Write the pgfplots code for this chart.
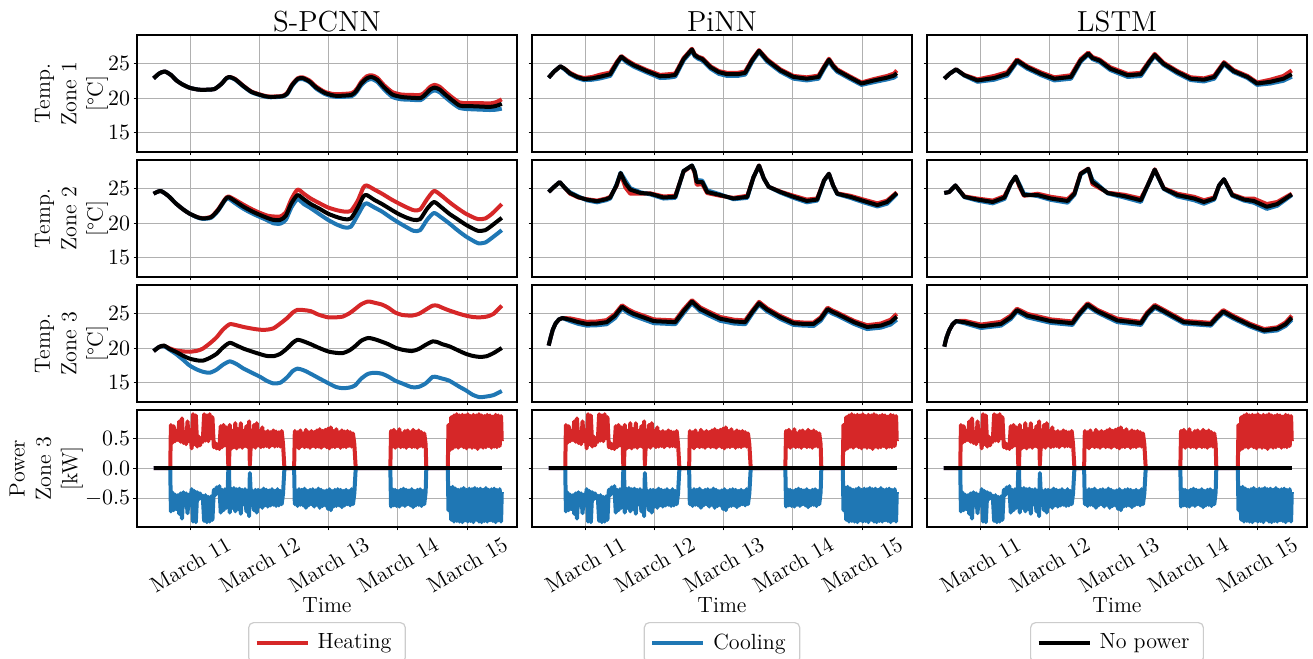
\documentclass[border=0pt]{standalone}
\usepackage{pgfplots}
\pgfplotsset{compat=1.18}
\usepackage{pgfplotstable}
\definecolor{tred}{HTML}{D62728}
\definecolor{tblue}{HTML}{1F77B4}
\definecolor{gridgray}{HTML}{B0B0B0}
\definecolor{leggray}{HTML}{CCCCCC}
\newcommand{\tickfont}{\fontsize{11}{13.2}\selectfont}
\newcommand{\labfont}{\fontsize{11}{13.2}\selectfont}
\newcommand{\titfont}{\fontsize{14.5}{17}\selectfont}

% ---------- S-PCNN ----------
\pgfplotstableread{
t h c n
10.47 22.9 22.9 22.9
10.55 23.6 23.6 23.6
10.63 23.9 23.9 23.9
10.72 23.4 23.4 23.4
10.80 22.6 22.6 22.6
10.89 22.0 22.0 22.0
11.00 21.5 21.5 21.5
11.13 21.25 21.25 21.25
11.25 21.25 21.25 21.25
11.35 21.35 21.35 21.35
11.45 22.1 22.1 22.1
11.52 22.9 22.9 22.9
11.57 23.1 23.05 23.1
11.65 22.8 22.7 22.75
11.77 21.8 21.7 21.75
11.88 21.0 20.9 20.95
11.96 20.7 20.6 20.65
12.08 20.35 20.25 20.3
12.16 20.25 20.15 20.2
12.33 20.35 20.25 20.3
12.40 20.8 20.6 20.7
12.47 22.0 21.8 21.9
12.55 22.9 22.7 22.8
12.62 23.05 22.8 22.95
12.72 22.6 22.35 22.45
12.82 21.7 21.4 21.55
12.94 20.95 20.65 20.8
13.05 20.65 20.3 20.45
13.13 20.6 20.2 20.35
13.33 20.75 20.3 20.5
13.40 21.3 20.9 21.1
13.47 22.4 21.9 22.15
13.55 23.2 22.6 22.9
13.62 23.35 22.8 23.1
13.70 23.0 22.4 22.7
13.80 21.9 21.3 21.6
13.92 20.9 20.2 20.55
14.05 20.55 19.85 20.2
14.16 20.5 19.8 20.1
14.33 20.5 19.75 20.05
14.40 21.0 20.3 20.6
14.47 21.7 20.9 21.3
14.53 21.95 21.15 21.55
14.60 21.7 20.9 21.3
14.69 20.9 20.1 20.5
14.80 20.0 19.2 19.6
14.89 19.4 18.6 18.95
14.98 19.3 18.45 18.85
15.08 19.3 18.4 18.85
15.20 19.3 18.35 18.8
15.33 19.25 18.3 18.75
15.42 19.45 18.35 18.9
15.50 19.85 18.5 19.2
}\spzA

\pgfplotstableread{
t h c n
10.47 24.3 24.3 24.3
10.57 24.7 24.7 24.7
10.68 24.0 24.0 24.0
10.79 22.9 22.9 22.9
10.90 22.0 22.0 22.0
10.99 21.4 21.4 21.4
11.10 20.9 20.85 20.9
11.18 20.75 20.65 20.7
11.30 20.95 20.8 20.9
11.40 22.0 21.8 21.9
11.50 23.5 23.3 23.4
11.55 23.9 23.6 23.8
11.65 23.4 22.9 23.2
11.77 22.7 22.1 22.4
11.90 22.0 21.4 21.7
12.01 21.5 20.9 21.2
12.12 21.1 20.4 20.75
12.20 21.0 20.0 20.5
12.30 21.0 19.95 20.5
12.38 21.6 20.5 21.1
12.46 23.5 22.3 22.9
12.55 24.9 23.5 24.1
12.64 24.3 22.8 23.5
12.74 23.6 22.2 22.8
12.87 22.9 21.3 22.1
12.99 22.3 20.5 21.4
13.12 21.9 19.8 20.9
13.23 21.7 19.4 20.6
13.32 21.8 19.5 20.7
13.42 23.3 21.2 22.3
13.50 25.2 22.6 23.9
13.55 25.5 22.9 24.1
13.66 24.9 22.3 23.4
13.77 24.3 21.7 22.8
13.90 23.5 20.8 22.0
14.01 22.9 20.1 21.35
14.13 22.3 19.4 20.8
14.23 21.9 18.9 20.5
14.32 22.0 19.0 20.6
14.42 23.5 20.5 22.1
14.52 24.7 21.5 23.1
14.62 24.1 20.9 22.4
14.74 23.1 20.0 21.4
14.86 22.2 19.0 20.6
14.98 21.4 18.1 19.8
15.08 20.9 17.5 19.25
15.16 20.6 17.1 18.9
15.26 20.7 17.2 19.0
15.36 21.4 17.9 19.7
15.50 22.8 19.0 20.8
}\spzB

\pgfplotstableread{
t h c n
10.47 19.6 19.6 19.6
10.55 20.2 20.2 20.2
10.62 20.35 20.3 20.4
10.70 20.0 19.8 19.9
10.79 19.7 19.2 19.5
10.90 19.55 18.3 18.9
10.99 19.5 17.5 18.5
11.10 19.65 16.9 18.25
11.18 19.95 16.6 18.2
11.28 20.7 16.45 18.6
11.38 21.6 16.9 19.2
11.47 22.7 17.6 20.1
11.57 23.5 18.1 20.8
11.67 23.35 17.7 20.4
11.77 23.1 17.05 19.95
11.90 22.85 16.4 19.5
12.01 22.7 15.85 19.15
12.10 22.7 15.3 18.9
12.20 22.9 14.9 18.85
12.30 23.6 15.0 19.2
12.40 24.4 15.8 20.0
12.48 25.2 16.7 20.8
12.55 25.6 17.05 21.25
12.64 25.55 16.8 21.0
12.74 25.4 16.3 20.6
12.85 24.9 15.7 20.1
12.99 24.5 14.95 19.55
13.10 24.5 14.4 19.35
13.20 24.6 14.2 19.3
13.30 25.1 14.3 19.7
13.38 25.7 14.6 20.3
13.47 26.4 15.6 21.1
13.57 26.8 16.3 21.5
13.67 26.6 16.45 21.3
13.77 26.35 16.3 20.95
13.86 25.9 15.9 20.6
13.96 25.2 15.3 20.1
14.06 24.85 14.9 19.8
14.20 24.75 14.35 19.6
14.30 25.0 14.4 19.9
14.40 25.6 14.9 20.5
14.50 26.2 15.85 21.0
14.57 26.2 15.8 20.9
14.64 25.9 15.6 20.6
14.74 25.5 15.3 20.3
14.89 25.0 14.4 19.6
14.98 24.75 13.9 19.2
15.08 24.55 13.25 18.9
15.18 24.5 12.9 18.75
15.28 24.6 13.0 18.85
15.38 25.0 13.2 19.3
15.50 26.2 13.8 20.05
}\spzC

% ---------- PiNN ----------
\pgfplotstableread{
t h c n
10.47 23.0 23.0 23.0
10.55 23.9 23.9 23.9
10.64 24.65 24.65 24.65
10.70 24.3 24.2 24.3
10.78 23.7 23.5 23.6
10.88 23.2 22.95 23.1
10.98 22.95 22.65 22.8
11.10 23.1 22.7 22.9
11.22 23.45 22.9 23.15
11.36 23.75 23.25 23.5
11.46 25.35 25.0 25.2
11.52 26.15 25.9 26.05
11.60 25.55 25.2 25.4
11.70 24.95 24.6 24.8
11.89 24.1 23.75 23.95
12.08 23.4 22.95 23.2
12.20 23.5 23.0 23.25
12.30 23.6 23.15 23.4
12.42 25.85 25.5 25.7
12.54 27.2 26.9 27.1
12.58 26.4 26.1 26.3
12.63 26.05 25.75 25.95
12.69 25.85 25.5 25.7
12.81 24.65 24.3 24.5
12.93 23.95 23.55 23.8
13.05 23.7 23.25 23.5
13.20 23.7 23.25 23.5
13.31 23.9 23.45 23.7
13.41 25.65 25.3 25.5
13.51 27.0 26.75 26.9
13.63 25.65 25.3 25.5
13.82 24.2 23.85 24.05
14.01 23.25 22.85 23.1
14.20 23.05 22.6 22.85
14.37 23.3 22.85 23.1
14.45 24.65 24.3 24.5
14.52 25.75 25.4 25.6
14.58 24.85 24.5 24.7
14.64 24.2 23.85 24.05
14.83 23.15 22.8 23.0
14.99 22.3 21.95 22.15
15.17 22.8 22.35 22.6
15.36 23.25 22.75 23.0
15.46 23.6 23.0 23.3
15.50 24.05 23.3 23.65
}\pizA

\pgfplotstableread{
t h c n
10.47 24.55 24.55 24.55
10.55 25.3 25.3 25.3
10.63 26.0 26.0 26.0
10.70 25.2 25.2 25.2
10.78 24.3 24.5 24.4
10.90 23.75 23.9 23.8
11.02 23.5 23.35 23.45
11.17 23.3 23.05 23.2
11.30 23.6 23.35 23.5
11.36 23.85 23.6 23.75
11.45 25.4 25.6 25.5
11.51 27.2 27.35 27.3
11.58 25.2 26.2 25.8
11.65 24.3 25.1 24.9
11.80 24.3 24.5 24.4
11.94 24.35 24.2 24.3
12.13 23.9 23.6 23.75
12.30 24.0 23.7 23.85
12.42 27.5 27.6 27.6
12.54 28.35 28.4 28.4
12.58 27.3 27.6 27.5
12.61 25.6 26.3 26.0
12.69 25.7 26.2 26.0
12.76 24.4 24.8 24.55
12.95 24.0 24.2 24.1
13.14 23.7 23.5 23.6
13.34 24.0 23.7 23.85
13.43 26.7 26.7 26.7
13.51 28.4 28.35 28.4
13.58 26.5 26.5 26.5
13.65 25.3 25.3 25.3
13.82 24.6 24.45 24.55
14.01 24.0 23.7 23.85
14.20 23.45 23.05 23.25
14.35 23.6 23.3 23.45
14.45 26.25 26.2 26.25
14.52 27.2 27.2 27.2
14.58 25.5 25.5 25.5
14.64 24.35 24.25 24.3
14.83 24.0 23.7 23.85
15.02 23.45 23.05 23.25
15.22 22.9 22.45 22.65
15.36 23.3 22.85 23.1
15.50 24.5 24.25 24.4
}\pizB

\pgfplotstableread{
t h c n
10.47 20.4 20.4 20.4
10.50 21.6 21.6 21.6
10.53 22.7 22.7 22.7
10.57 23.6 23.6 23.6
10.62 24.2 24.2 24.2
10.67 24.4 24.4 24.4
10.78 24.35 23.95 24.15
10.90 24.1 23.55 23.8
11.02 23.85 23.3 23.55
11.17 23.9 23.35 23.6
11.31 24.1 23.5 23.8
11.43 25.0 24.4 24.75
11.53 26.25 25.8 26.05
11.62 25.65 25.1 25.4
11.70 25.25 24.7 25.0
11.99 24.2 23.65 23.95
12.30 24.05 23.5 23.8
12.42 25.65 25.1 25.4
12.54 27.0 26.55 26.8
12.66 25.95 25.4 25.7
12.80 25.25 24.7 25.0
12.95 24.55 24.0 24.3
13.15 24.15 23.6 23.9
13.31 24.05 23.5 23.8
13.41 25.45 25.0 25.25
13.51 26.75 26.35 26.55
13.63 25.8 25.35 25.6
13.82 24.7 24.25 24.5
14.01 23.85 23.4 23.65
14.15 23.75 23.3 23.55
14.30 23.75 23.25 23.55
14.40 24.5 24.0 24.3
14.50 25.9 25.45 25.7
14.57 25.5 25.05 25.3
14.64 25.2 24.75 25.0
14.88 24.0 23.55 23.8
15.07 23.35 22.8 23.1
15.27 23.6 23.0 23.3
15.41 24.15 23.45 23.8
15.50 25.0 24.15 24.6
}\pizC

% ---------- LSTM ----------
\pgfplotstableread{
t h c n
10.48 22.85 22.85 22.85
10.56 23.6 23.6 23.6
10.65 24.2 24.2 24.2
10.77 23.4 23.3 23.35
10.96 22.75 22.4 22.6
11.20 23.25 22.7 22.95
11.39 23.8 23.3 23.55
11.46 24.7 24.3 24.5
11.53 25.65 25.3 25.5
11.68 24.65 24.3 24.5
11.88 23.75 23.35 23.55
12.07 23.05 22.6 22.85
12.31 23.35 22.85 23.1
12.45 25.7 25.3 25.5
12.56 26.65 26.35 26.5
12.62 26.0 25.7 25.85
12.72 25.65 25.3 25.5
12.88 24.5 24.1 24.3
13.13 23.55 23.1 23.35
13.32 23.7 23.25 23.5
13.44 25.4 25.05 25.25
13.52 26.45 26.15 26.3
13.65 25.15 24.85 25.0
13.85 23.95 23.6 23.8
14.04 23.05 22.65 22.85
14.23 22.9 22.45 22.7
14.38 23.3 22.85 23.1
14.52 25.25 24.95 25.1
14.66 24.1 23.8 23.95
14.86 23.25 22.95 23.1
15.00 22.3 21.95 22.15
15.19 22.7 22.15 22.4
15.38 23.25 22.55 22.85
15.50 24.05 23.15 23.5
}\lszA

\pgfplotstableread{
t h c n
10.48 24.4 24.4 24.4
10.55 24.55 24.55 24.55
10.64 25.5 25.5 25.5
10.77 23.9 23.8 23.85
10.96 23.6 23.3 23.45
11.18 23.3 22.9 23.1
11.35 23.95 23.55 23.75
11.44 25.75 25.75 25.75
11.51 26.8 26.8 26.8
11.57 25.2 25.6 25.4
11.63 24.0 24.3 24.1
11.83 24.3 23.95 24.1
12.02 23.85 23.4 23.6
12.26 23.5 23.0 23.25
12.36 24.45 24.15 24.3
12.45 27.25 27.1 27.2
12.56 27.95 27.85 27.9
12.62 25.7 26.3 26.0
12.69 25.3 25.7 25.5
12.84 24.45 24.35 24.4
13.08 24.15 23.75 23.95
13.32 23.6 23.1 23.35
13.41 25.35 25.3 25.3
13.52 27.85 27.75 27.8
13.65 25.1 25.0 25.05
13.85 24.3 23.9 24.1
14.09 23.85 23.35 23.6
14.23 23.35 22.85 23.1
14.38 23.75 23.45 23.6
14.45 25.5 25.5 25.5
14.52 26.4 26.4 26.4
14.64 24.2 24.0 24.1
14.81 23.6 23.3 23.45
14.95 23.6 23.0 23.25
15.14 22.8 22.1 22.4
15.29 23.1 22.55 22.8
15.50 24.3 24.1 24.2
}\lszB

\pgfplotstableread{
t h c n
10.48 20.25 20.25 20.25
10.51 21.5 21.5 21.5
10.55 22.6 22.6 22.6
10.60 23.5 23.5 23.5
10.65 23.95 23.95 23.95
10.77 24.0 23.65 23.8
11.01 23.45 22.95 23.2
11.30 23.85 23.3 23.55
11.44 24.75 24.25 24.5
11.53 25.75 25.35 25.55
11.68 25.0 24.5 24.75
12.02 24.2 23.7 23.95
12.33 23.9 23.4 23.65
12.43 25.2 24.8 25.0
12.55 26.55 26.15 26.35
12.69 25.6 25.2 25.4
12.98 24.3 23.8 24.05
13.32 23.85 23.4 23.65
13.41 25.2 24.8 25.0
13.52 26.3 25.9 26.1
13.65 25.6 25.2 25.4
13.94 24.0 23.6 23.8
14.33 23.7 23.3 23.5
14.42 24.7 24.3 24.5
14.51 25.55 25.15 25.35
14.66 24.7 24.3 24.5
14.90 23.55 23.15 23.35
15.10 22.8 22.4 22.6
15.29 23.05 22.6 22.85
15.41 23.75 23.25 23.5
15.50 24.75 24.15 24.45
}\lszC

% ---------- Power zone 3 (same for all models) ----------
\pgfplotstableread{
t h c
10.47 0 0
10.71 0 0
10.72 .72 -.72
10.74 .42 -.40
10.76 .70 -.70
10.78 .45 -.44
10.80 .62 -.68
10.82 .47 -.45
10.84 .78 -.76
10.86 .44 -.42
10.88 .83 -.84
10.90 .42 -.40
10.92 .60 -.62
10.94 .40 -.42
10.96 .78 -.75
10.98 .45 -.44
11.00 .62 -.60
11.02 .33 -.35
11.04 .90 -.89
11.06 .40 -.38
11.08 .88 -.90
11.10 .36 -.40
11.12 .53 -.52
11.14 .38 -.42
11.16 .50 -.50
11.18 .44 -.46
11.20 .90 -.88
11.22 .46 -.45
11.24 .88 -.90
11.26 .45 -.48
11.28 .90 -.89
11.30 .50 -.47
11.32 .85 -.86
11.34 .35 -.36
11.36 .42 -.45
11.38 .33 -.32
11.40 .40 -.42
11.42 .32 -.30
11.44 .70 -.74
11.46 .35 -.36
11.48 .72 -.70
11.50 .38 -.35
11.52 .68 -.66
11.54 .40 -.38
11.55 0 0
11.56 0 0
11.57 .72 -.74
11.59 .32 -.34
11.61 .62 -.66
11.63 .35 -.33
11.65 .75 -.72
11.67 .33 -.35
11.69 .65 -.68
11.71 .36 -.34
11.73 .75 -.76
11.75 .34 -.36
11.77 .62 -.60
11.79 .37 -.35
11.81 .70 -.72
11.83 .35 -.37
11.85 .78 -.80
11.86 .05 -.08
11.88 .55 -.58
11.90 .36 -.38
11.92 .72 -.70
11.94 .34 -.36
11.96 .75 -.74
11.98 .38 -.36
12.00 .62 -.64
12.02 .35 -.37
12.04 .68 -.66
12.06 .36 -.34
12.08 .60 -.62
12.10 .37 -.36
12.12 .62 -.64
12.14 .35 -.37
12.16 .60 -.62
12.18 .38 -.35
12.20 .63 -.61
12.22 .36 -.38
12.24 .61 -.63
12.26 .37 -.35
12.28 .60 -.62
12.30 .36 -.38
12.32 .62 -.60
12.34 .40 -.42
12.36 0 0
12.50 0 0
12.51 .62 -.60
12.53 .36 -.38
12.55 .60 -.63
12.57 .33 -.35
12.59 .63 -.61
12.61 .37 -.36
12.63 .58 -.62
12.65 .35 -.34
12.67 .64 -.66
12.69 .36 -.38
12.71 .60 -.62
12.73 .34 -.36
12.75 .62 -.60
12.77 .37 -.35
12.79 .60 -.64
12.81 .35 -.37
12.83 .63 -.61
12.85 .36 -.34
12.87 .65 -.66
12.89 .34 -.36
12.91 .62 -.63
12.93 .37 -.38
12.95 .64 -.62
12.97 .35 -.37
12.99 .66 -.68
13.01 .33 -.35
13.03 .68 -.70
13.05 .36 -.38
13.07 .62 -.64
13.09 .35 -.36
13.11 .65 -.63
13.13 .37 -.35
13.15 .60 -.62
13.17 .34 -.36
13.19 .63 -.65
13.21 .36 -.38
13.23 .61 -.62
13.25 .35 -.36
13.27 .62 -.60
13.29 .37 -.38
13.31 .60 -.62
13.33 .36 -.35
13.35 .58 -.60
13.37 .40 -.42
13.39 0 0
13.89 0 0
13.90 .62 -.64
13.92 .36 -.35
13.94 .64 -.62
13.96 .34 -.36
13.98 .60 -.63
14.00 .37 -.38
14.02 .65 -.64
14.04 .35 -.36
14.06 .58 -.61
14.08 .36 -.34
14.10 .62 -.63
14.12 .34 -.36
14.14 .63 -.60
14.16 .37 -.37
14.18 .60 -.62
14.20 .35 -.35
14.22 .64 -.65
14.24 .36 -.38
14.26 .61 -.62
14.28 .34 -.36
14.30 .63 -.61
14.32 .37 -.35
14.34 .60 -.63
14.36 .36 -.38
14.38 .58 -.60
14.40 .40 -.40
14.41 0 0
14.72 0 0
14.73 .72 -.70
14.75 .30 -.32
14.77 .85 -.86
14.79 .33 -.31
14.81 .88 -.89
14.83 .36 -.34
14.85 .90 -.88
14.87 .34 -.36
14.89 .88 -.89
14.91 .37 -.35
14.93 .89 -.90
14.95 .35 -.33
14.97 .88 -.87
14.99 .33 -.36
15.01 .90 -.89
15.03 .36 -.34
15.05 .87 -.88
15.07 .34 -.35
15.09 .89 -.90
15.11 .35 -.33
15.13 .88 -.86
15.15 .32 -.35
15.17 .90 -.89
15.19 .36 -.34
15.21 .88 -.90
15.23 .34 -.36
15.25 .87 -.88
15.27 .35 -.33
15.29 .89 -.89
15.31 .37 -.36
15.33 .88 -.87
15.35 .34 -.35
15.37 .86 -.88
15.39 .36 -.34
15.41 .89 -.90
15.43 .35 -.36
15.45 .88 -.87
15.47 .37 -.35
15.49 .87 -.89
15.50 .45 -.40
}\power

\pgfplotsset{
  sheat/.style={color=tred, line width=2pt, line join=round, mark=none},
  scool/.style={color=tblue, line width=2pt, line join=round, mark=none},
  snone/.style={color=black, line width=2pt, line join=round, mark=none},
  base/.style={
    scale only axis, width=190pt, height=58.5pt, anchor=south west,
    xmin=10.23, xmax=15.72, xtick={11,12,13,14,15}, xticklabels={},
    grid=major, grid style={gridgray, line width=0.5pt},
    axis line style={line width=0.55pt},
    tick align=outside, xtick pos=bottom, ytick pos=left,
    major tick length=1.75pt, tick style={black, line width=0.5pt},
    tick label style={font=\tickfont},
    yticklabel style={inner xsep=1.5pt},
    ylabel style={at={(axis description cs:-0.172,0.5)}, anchor=center, align=center, font=\labfont},
    every axis title shift=0pt,
    title style={at={(axis description cs:0.5,1)}, anchor=base, yshift=1.8pt, font=\titfont},
    legend image code/.code={\draw[##1] (0pt,0pt) -- (25.5pt,0pt);},
  },
  temp/.style={ymin=12.2, ymax=29.2, ytick={15,20,25}},
  pow/.style={ymin=-0.98, ymax=0.97, ytick={-0.5,0,0.5},
    yticklabel style={/pgf/number format/.cd, fixed, fixed zerofill, precision=1},
    xticklabels={March 11,March 12,March 13,March 14,March 15},
    xticklabel style={yshift=-17pt, rotate=30, anchor=center, inner sep=0pt},
    xlabel={Time},
    xlabel style={at={(axis description cs:0.5,0)}, anchor=base, yshift=-43pt, font=\labfont},
    legend style={at={(axis description cs:0.5,-0.812)}, anchor=north,
      draw=leggray, line width=0.6pt, rounded corners=2.5pt, fill=white,
      font=\labfont, inner xsep=3pt, inner ysep=3.5pt,
      nodes={inner xsep=4pt, inner ysep=2pt}},
  },
  noylab/.style={yticklabels={}},
}

\newcommand{\tempplots}[2]{%
  \addplot[sheat,#2] table[x=t,y=h]{#1};
  \addplot[scool,#2] table[x=t,y=c]{#1};
  \addplot[snone,#2] table[x=t,y=n]{#1};}
\newcommand{\powplots}{%
  \addplot[sheat] table[x=t,y=h]{\power};
  \addplot[scool] table[x=t,y=c]{\power};
  \addplot[snone] coordinates {(10.47,0) (15.5,0)};}

\begin{document}
\begin{tikzpicture}
\path[use as bounding box] (0,0) rectangle (656.5pt,329.5pt);

% ===== column 1: S-PCNN =====
\begin{axis}[base, temp, at={(68.5pt,253.5pt)}, title={S-PCNN},
  ylabel={Temp.\\Zone 1\\{[}\textdegree C{]}}]
\tempplots{\spzA}{smooth, tension=0.4}
\end{axis}
\begin{axis}[base, temp, at={(68.5pt,191pt)},
  ylabel={Temp.\\Zone 2\\{[}\textdegree C{]}}]
\tempplots{\spzB}{smooth, tension=0.4}
\end{axis}
\begin{axis}[base, temp, at={(68.5pt,128.5pt)},
  ylabel={Temp.\\Zone 3\\{[}\textdegree C{]}}]
\tempplots{\spzC}{smooth, tension=0.4}
\end{axis}
\begin{axis}[base, pow, at={(68.5pt,66pt)},
  ylabel={Power\\Zone 3\\{[}kW{]}},
  ylabel style={at={(axis description cs:-0.239,0.5)}}]
\addlegendimage{sheat}\addlegendentry{Heating}
\powplots
\end{axis}

% ===== column 2: PiNN =====
\begin{axis}[base, temp, noylab, at={(266pt,253.5pt)}, title={PiNN}]
\tempplots{\pizA}{}
\end{axis}
\begin{axis}[base, temp, noylab, at={(266pt,191pt)}]
\tempplots{\pizB}{}
\end{axis}
\begin{axis}[base, temp, noylab, at={(266pt,128.5pt)}]
\tempplots{\pizC}{}
\end{axis}
\begin{axis}[base, pow, noylab, at={(266pt,66pt)}]
\addlegendimage{scool}\addlegendentry{Cooling}
\powplots
\end{axis}

% ===== column 3: LSTM =====
\begin{axis}[base, temp, noylab, at={(463.5pt,253.5pt)}, title={LSTM}]
\tempplots{\lszA}{}
\end{axis}
\begin{axis}[base, temp, noylab, at={(463.5pt,191pt)}]
\tempplots{\lszB}{}
\end{axis}
\begin{axis}[base, temp, noylab, at={(463.5pt,128.5pt)}]
\tempplots{\lszC}{}
\end{axis}
\begin{axis}[base, pow, noylab, at={(463.5pt,66pt)}]
\addlegendimage{snone}\addlegendentry{No power}
\powplots
\end{axis}
\end{tikzpicture}
\end{document}
